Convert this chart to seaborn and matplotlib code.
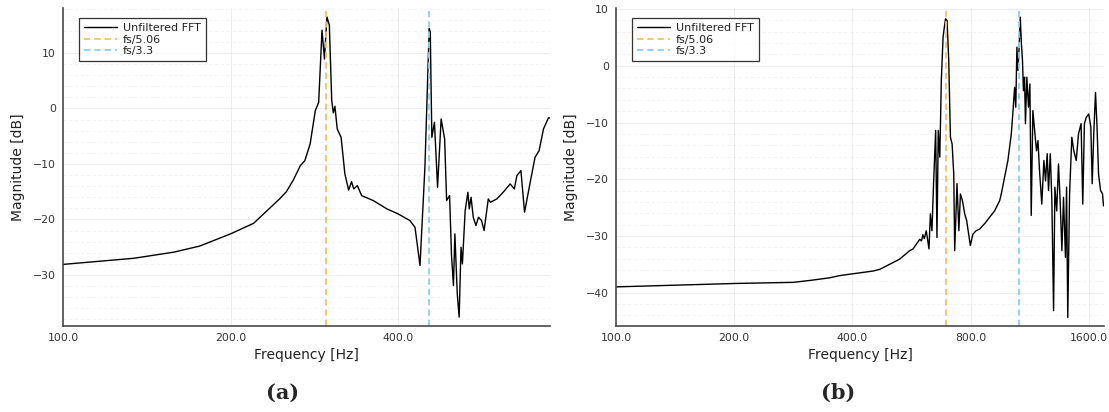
import numpy as np
import pandas as pd
import matplotlib
matplotlib.use("Agg")
import matplotlib.pyplot as plt
from matplotlib.ticker import MultipleLocator, NullLocator, FixedLocator
from matplotlib.lines import Line2D
import seaborn as sns

# ---------------- data ----------------
freq_a = [100, 134, 158, 176, 200, 220, 245, 252, 259, 267, 272, 278, 284, 288, 292, 295, 298,
          301, 304, 306, 308, 311, 316, 321, 326, 330, 333, 338, 344, 361, 382, 400, 420, 429,
          438, 447, 455, 457, 460, 465, 471, 478, 485, 489, 495, 499, 503, 506, 511, 515, 519,
          522, 528, 534, 537, 541, 546, 552, 558, 565, 571, 581, 586, 602, 618, 636, 647, 654,
          665, 675, 691, 705, 717, 730, 745, 750]
mag_a = [-28.1, -27.0, -25.9, -24.8, -22.6, -20.7, -16.3, -15.0, -13.0, -10.3, -9.4, -6.4, -0.4,
         1.1, 14.1, 8.9, 16.5, 15.0, 1.4, -0.8, 0.4, -3.7, -5.2, -11.8, -14.7, -13.2, -14.5,
         -13.9, -15.7, -16.6, -18.1, -19.0, -20.2, -21.4, -28.3, -10.6, 14.4, 13.8, -5.2, -2.5,
         -14.2, -1.9, -5.5, -16.6, -15.7, -26.5, -31.9, -22.6, -33.4, -37.6, -25.0, -28.0, -18.4,
         -15.1, -18.1, -16.0, -19.6, -21.1, -19.6, -20.2, -22.0, -16.3, -16.9, -16.3, -15.1,
         -13.6, -14.5, -12.1, -11.2, -18.7, -13.3, -8.8, -7.6, -3.7, -1.7, -1.7]

freq_b = [100, 200, 283, 317, 350, 372, 400, 452, 470, 518, 528, 560, 571, 594, 600, 605, 610,
          617, 627, 632, 638, 644, 652, 657, 662, 668, 674, 681, 686, 691, 697, 704, 711, 718,
          725, 729, 739, 747, 754, 763, 773, 782, 799, 811, 826, 844, 870, 895, 921, 949, 958,
          996, 1016, 1025, 1036, 1043, 1050, 1056, 1062, 1071, 1078, 1085, 1091, 1098, 1104,
          1113, 1124, 1133, 1142, 1153, 1165, 1178, 1188, 1199, 1215, 1230, 1242, 1254, 1264,
          1277, 1289, 1302, 1312, 1326, 1340, 1353, 1367, 1380, 1396, 1405, 1415, 1430, 1449,
          1466, 1487, 1507, 1530, 1545, 1560, 1577, 1600, 1620, 1633, 1648, 1665, 1680, 1695,
          1715, 1735, 1745]
mag_b = [-39.0, -38.4, -38.2, -37.8, -37.4, -37.0, -36.7, -36.2, -35.9, -34.4, -34.1, -32.6,
         -32.3, -30.6, -30.9, -29.8, -30.5, -29.1, -32.3, -26.1, -29.1, -20.8, -11.4, -30.3,
         -11.4, -16.1, -2.6, 5.1, 6.8, 8.3, 8.0, 0.9, -12.6, -13.8, -19.1, -32.6, -20.8, -29.1,
         -22.6, -23.8, -26.1, -27.3, -31.7, -29.7, -29.1, -28.8, -27.8, -26.7, -25.6, -23.8,
         -22.6, -16.7, -12.0, -8.5, -3.8, -7.3, 3.3, -0.8, 2.1, 8.6, 3.9, 0.9, -4.4, -2.0,
         -10.2, -2.0, -7.3, -3.2, -26.4, -7.9, -11.4, -15.0, -13.2, -18.5, -24.4, -16.7, -20.3,
         -15.5, -22.0, -15.5, -23.8, -43.2, -21.4, -25.6, -17.3, -23.8, -32.6, -23.2, -33.8,
         -21.4, -44.4, -22.6, -12.6, -15.0, -16.7, -12.0, -10.2, -24.4, -10.2, -9.1, -8.5,
         -10.8, -20.8, -12.0, -4.7, -10.8, -19.1, -22.0, -22.6, -24.7]

fs_a = 1500.0
fs_b = 3500.0
divisors = [5.06, 3.3]
series_labels = ["Unfiltered FFT", "fs/5.06", "fs/3.3"]
xticks_a = [100, 200, 400]
xticks_b = [100, 200, 400, 800, 1600]
tick_labels_a = ["100.0", "200.0", "400.0"]
tick_labels_b = ["100.0", "200.0", "400.0", "800.0", "1600.0"]
captions = ["(a)", "(b)"]

# ---------------- style ----------------
sns.set_style("white")
plt.rcParams["font.family"] = ["DejaVu Sans"]

W, H = 1109, 412
fig = plt.figure(figsize=(W / 100, H / 100), dpi=100)

ORANGE = "#F3C163"
BLUE = "#8DCFEE"
SPINE = "#4a4a4a"


def draw(rect, freq, mag, fs, xmax, ylim, xticks, xlabels, caption, cap_x):
    ax = fig.add_axes(rect)
    df = pd.DataFrame({"f": freq, "m": mag})
    sns.lineplot(data=df, x="f", y="m", ax=ax, color="black", lw=1.0,
                 estimator=None, sort=False)
    for d, c in zip(divisors, [ORANGE, BLUE]):
        ax.axvline(fs / d, color=c, lw=1.3, ls=(0, (3.5, 2.2)))
    ax.set_xscale("log", base=2)
    ax.set_xlim(100, xmax)
    ax.set_ylim(*ylim)
    ax.xaxis.set_major_locator(FixedLocator(xticks))
    ax.set_xticklabels(xlabels)
    ax.xaxis.set_minor_locator(NullLocator())
    ax.yaxis.set_major_locator(MultipleLocator(10))
    ax.yaxis.set_minor_locator(MultipleLocator(2))
    ax.grid(which="major", color="black", alpha=0.08, lw=0.6)
    ax.yaxis.grid(which="minor", color="black", alpha=0.05, lw=0.6, ls=(0, (4, 3)))
    ax.set_axisbelow(True)
    for s in ["top", "right"]:
        ax.spines[s].set_visible(False)
    for s in ["left", "bottom"]:
        ax.spines[s].set_color(SPINE)
        ax.spines[s].set_linewidth(1.2)
    ax.tick_params(which="major", direction="in", length=4, width=0.9, color=SPINE,
                   labelsize=7.8, labelcolor="#333333", pad=5)
    ax.tick_params(which="minor", direction="in", length=2.5, width=0.7, color=SPINE)
    ax.set_xlabel("Frequency [Hz]", fontsize=10, color="#222222")
    ax.set_ylabel("Magnitude [dB]", fontsize=10, color="#222222")
    ax.xaxis.set_label_coords(0.5, -22 / (rect[3] * H))
    ax.yaxis.set_label_coords(-38 / (rect[2] * W), 0.5)
    handles = [Line2D([], [], color="black", lw=1.0),
               Line2D([], [], color=ORANGE, lw=1.3, ls=(0, (3.5, 2.2))),
               Line2D([], [], color=BLUE, lw=1.3, ls=(0, (3.5, 2.2)))]
    leg = ax.legend(handles, series_labels, loc="upper left",
                    bbox_to_anchor=(16 / (rect[2] * W), 1 - 10 / (rect[3] * H)),
                    borderaxespad=0, fontsize=8, frameon=True, fancybox=False,
                    handlelength=3.0, handletextpad=0.5, labelspacing=0.15,
                    borderpad=0.45)
    leg.get_frame().set_edgecolor("black")
    leg.get_frame().set_linewidth(0.9)
    for t in leg.get_texts():
        t.set_color("#222222")
    fig.text(cap_x / W, 1 - 393 / H, caption, ha="center", va="center",
             fontsize=15, fontweight="bold", family="DejaVu Serif")
    return ax


rect_a = [63 / W, (H - 326) / H, (550 - 63) / W, (326 - 8) / H]
rect_b = [616 / W, (H - 326) / H, (1104 - 616) / W, (326 - 8) / H]
draw(rect_a, freq_a, mag_a, fs_a, fs_a / 2, (-39.2, 18.1), xticks_a, tick_labels_a, captions[0], 283)
draw(rect_b, freq_b, mag_b, fs_b, fs_b / 2, (-45.9, 10.2), xticks_b, tick_labels_b, captions[1], 838)

fig.savefig("out.png", dpi=100)
